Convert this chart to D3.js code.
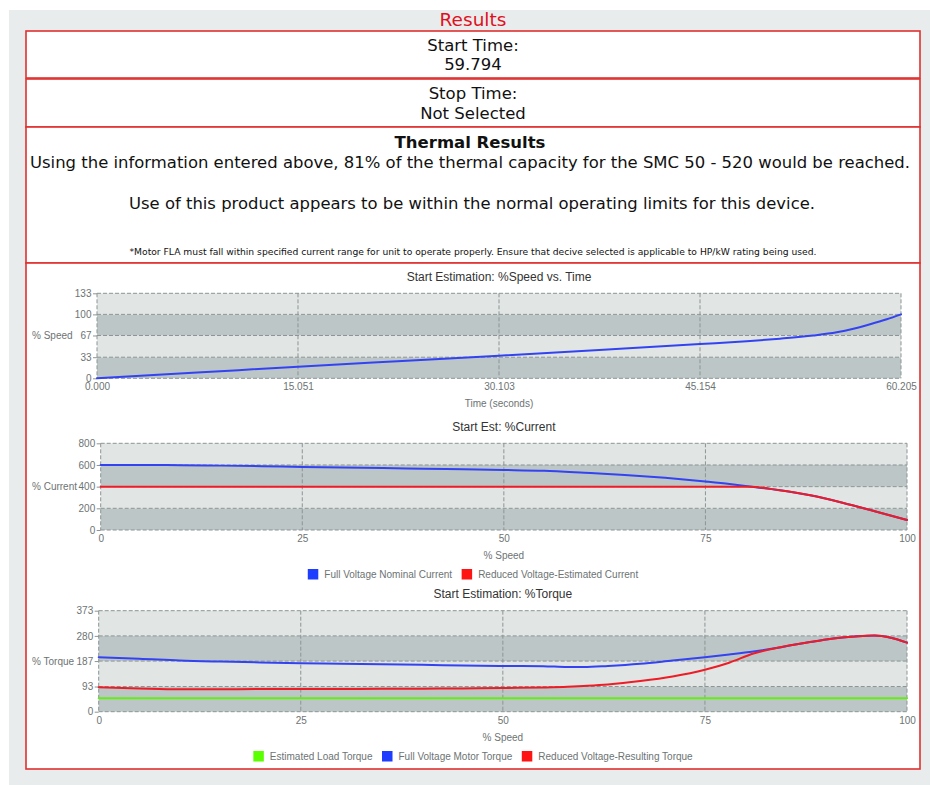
<!DOCTYPE html>
<html>
<head>
<meta charset="utf-8">
<script src="https://cdn.jsdelivr.net/npm/d3@7"></script>
<style>
  html, body { margin: 0; padding: 0; background: #fff; }
  svg { display: block; }
</style>
</head>
<body>
<svg id="page" width="930" height="785"></svg>
<script>
// ---- Start estimation: % speed over time ----
const speedTime = [0, 7.5, 15.051, 22.5, 30.103, 37.6, 45.154, 48.65, 51.14, 53.64, 55.39, 56.64, 57.89, 59.14, 60.205];
const speedPct  = [0, 9, 18.2, 26.8, 35.4, 44.2, 53.5, 58, 62, 67, 72, 77.5, 84.5, 92.3, 100];
const timeTickLabels = ["0.000", "15.051", "30.103", "45.154", "60.205"];
const speedTicks = [0, 33, 67, 100, 133];

// ---- % current vs % speed ----
const currentSpeed   = [0, 5, 10, 15, 20, 25, 30, 35, 40, 45, 50, 55, 60, 65, 70, 75, 78, 80.5, 84, 88, 92, 96, 100];
const fullCurrent    = [600, 600, 598, 594, 589, 581, 576, 571, 566, 560, 554, 546, 528, 508, 481, 447, 424, 401, 369, 320, 252, 173, 92];
const reducedCurrent = [400, 400, 400, 400, 400, 400, 400, 400, 400, 400, 400, 400, 400, 400, 400, 400, 400, 400, 369, 320, 252, 173, 92];
const currentTicks = [0, 200, 400, 600, 800];

// ---- % torque vs % speed ----
const torqueSpeed   = [0, 5, 10, 15, 20, 25, 30, 35, 40, 45, 50, 55, 58, 60, 63, 67, 71, 75, 78, 81, 84, 86, 88, 90, 92, 94, 96, 98, 100];
const fullTorque    = [201, 196, 189, 185, 182, 179, 177, 175, 173, 171, 169, 168, 165, 165, 169, 177, 189, 201, 211, 222, 236, 247, 257, 267, 274, 279, 281, 273, 255];
const reducedTorque = [90, 86, 83, 83, 83.5, 84, 84, 84.5, 85, 86, 87.5, 89.5, 92, 95, 100.5, 113, 130, 155, 181, 215, 236, 247, 257, 267, 274, 279, 281, 273, 255];
const loadSpeed  = [0, 100];
const loadTorque = [50, 50];
const torqueTicks = [0, 93, 187, 280, 373];

const speedAxisTicks = [0, 25, 50, 75, 100];

const BLUE = "#3343f2", RED = "#ee1c25", GREEN = "#62ee12";
const CHART_FONT = "'Liberation Sans', Arial, Helvetica, sans-serif";
const PAGE_FONT = "'DejaVu Sans', Verdana, sans-serif";

const svg = d3.select("#page");

// page frame
svg.append("rect").attr("x", 9).attr("y", 10).attr("width", 921).attr("height", 775).attr("fill", "#e8ecec");

const boxes = [[31, 47], [79, 48], [127, 136], [263, 506]];
boxes.forEach(([y, h]) => {
  svg.append("rect").attr("x", 26).attr("y", y).attr("width", 894).attr("height", h)
    .attr("fill", "#fff").attr("stroke", "#e03030").attr("stroke-width", 1.6);
});

function pageText(txt, x, y, size, opts = {}) {
  const t = svg.append("text").attr("x", x).attr("y", y)
    .attr("text-anchor", "middle").attr("dominant-baseline", "central")
    .attr("font-family", PAGE_FONT).attr("font-size", size)
    .attr("fill", opts.fill || "#111").attr("font-weight", opts.weight || "normal")
    .text(txt);
  if (opts.len) t.attr("textLength", opts.len).attr("lengthAdjust", "spacingAndGlyphs");
  return t;
}

pageText("Results", 473, 19, 18.5, { fill: "#e0101e" });
pageText("Start Time:", 473, 45, 16.5);
pageText("59.794", 473, 64, 16.5);
pageText("Stop Time:", 473, 93, 16.5);
pageText("Not Selected", 473, 113, 16.5);
pageText("Thermal Results", 470, 142, 16.5, { weight: "bold" });
pageText("Using the information entered above, 81% of the thermal capacity for the SMC 50 - 520 would be reached.", 470, 162, 16.5, { len: 880 });
pageText("Use of this product appears to be within the normal operating limits for this device.", 472, 203, 16.5, { len: 686 });
pageText("*Motor FLA must fall within specified current range for unit to operate properly. Ensure that decive selected is applicable to HP/kW rating being used.", 473, 252, 8, { len: 687 });

// one line chart with banded plot area, dashed grid, axes and optional legend
function drawChart(o) {
  const g = svg.append("g");
  const x = d3.scaleLinear().domain(o.xDomain).range([o.left, o.right]);
  const y = d3.scaleLinear().domain(o.yDomain).range([o.bottom, o.top]);

  // alternating horizontal bands
  for (let i = 0; i < o.yTicks.length - 1; i++) {
    g.append("rect")
      .attr("x", o.left).attr("width", o.right - o.left)
      .attr("y", y(o.yTicks[i + 1])).attr("height", y(o.yTicks[i]) - y(o.yTicks[i + 1]))
      .attr("fill", i % 2 === 0 ? "#bcc6c6" : "#e1e6e5");
  }

  // dashed grid
  const grid = g.append("g").attr("stroke", "#8d9494").attr("stroke-width", 1).attr("stroke-dasharray", "4,2").attr("fill", "none");
  o.yTicks.forEach(t => grid.append("line").attr("x1", o.left).attr("x2", o.right).attr("y1", y(t)).attr("y2", y(t)));
  o.xTicks.forEach(t => grid.append("line").attr("y1", o.top).attr("y2", o.bottom).attr("x1", x(t)).attr("x2", x(t)));

  // axes
  const ya = g.append("g").attr("transform", `translate(${o.left},0)`)
    .call(d3.axisLeft(y).tickValues(o.yTicks).tickSize(4).tickPadding(1.5).tickFormat(d3.format("d")));
  const xa = g.append("g").attr("transform", `translate(0,${o.bottom})`)
    .call(d3.axisBottom(x).tickValues(o.xTicks).tickSize(0).tickPadding(5).tickFormat(o.xFormat));
  [ya, xa].forEach(a => {
    a.select(".domain").remove();
    a.selectAll(".tick line").attr("stroke", "#8d9494");
    a.selectAll("text").attr("fill", "#6d7373").attr("font-size", 10).attr("font-family", CHART_FONT);
  });

  // series
  o.series.forEach(s => {
    const pts = s.xs.map((v, i) => [v, s.ys[i]]);
    g.append("path").datum(pts)
      .attr("fill", "none").attr("stroke", s.color).attr("stroke-width", 2)
      .attr("stroke-linejoin", "round").attr("stroke-linecap", "round")
      .attr("d", d3.line().x(d => x(d[0])).y(d => y(d[1])).curve(d3.curveMonotoneX));
  });

  // titles
  g.append("text").attr("x", (o.left + o.right) / 2).attr("y", o.titleY)
    .attr("text-anchor", "middle").attr("dominant-baseline", "central")
    .attr("font-family", CHART_FONT).attr("font-size", 12).attr("fill", "#333").text(o.title);
  g.append("text").attr("x", (o.left + o.right) / 2).attr("y", o.xTitleY)
    .attr("text-anchor", "middle").attr("dominant-baseline", "central")
    .attr("font-family", CHART_FONT).attr("font-size", 10).attr("fill", "#6d7373").text(o.xTitle);
  g.append("text").attr("x", 32).attr("y", (o.top + o.bottom) / 2)
    .attr("text-anchor", "start").attr("dominant-baseline", "central")
    .attr("font-family", CHART_FONT).attr("font-size", 10).attr("fill", "#6d7373").text(o.yTitle);

  // legend, centred under the chart
  if (o.legend) {
    const lg = g.append("g");
    let cx = 0;
    o.legend.forEach(item => {
      const it = lg.append("g").attr("transform", `translate(${cx},0)`);
      it.append("rect").attr("x", 0).attr("y", -5).attr("width", 10.5).attr("height", 10.5).attr("fill", item.color);
      const t = it.append("text").attr("x", 16.5).attr("y", 0.5).attr("dominant-baseline", "central")
        .attr("font-family", CHART_FONT).attr("font-size", 10).attr("fill", "#6d7373").text(item.label);
      cx += 16.5 + t.node().getComputedTextLength() + 9.5;
    });
    const total = cx - 9.5;
    lg.attr("transform", `translate(${473 - total / 2},${o.legendY})`);
  }
}

drawChart({
  left: 97, right: 901, top: 293.3, bottom: 378.3,
  xDomain: [0, +timeTickLabels[timeTickLabels.length - 1]],
  xTicks: timeTickLabels.map(Number), xFormat: d3.format(".3f"),
  yDomain: [0, 133], yTicks: speedTicks,
  title: "Start Estimation: %Speed vs. Time", titleY: 277,
  xTitle: "Time (seconds)", xTitleY: 403,
  yTitle: "% Speed",
  series: [{ xs: speedTime, ys: speedPct, color: BLUE }]
});

drawChart({
  left: 100.7, right: 907, top: 443.3, bottom: 530,
  xDomain: [0, 100], xTicks: speedAxisTicks, xFormat: d3.format("d"),
  yDomain: [0, 800], yTicks: currentTicks,
  title: "Start Est: %Current", titleY: 427,
  xTitle: "% Speed", xTitleY: 555,
  yTitle: "% Current",
  series: [
    { xs: currentSpeed, ys: fullCurrent, color: BLUE },
    { xs: currentSpeed, ys: reducedCurrent, color: RED }
  ],
  legend: [
    { label: "Full Voltage Nominal Current", color: "#1f3dff" },
    { label: "Reduced Voltage-Estimated Current", color: "#ff1414" }
  ],
  legendY: 574
});

drawChart({
  left: 98.7, right: 907, top: 610.7, bottom: 711.7,
  xDomain: [0, 100], xTicks: speedAxisTicks, xFormat: d3.format("d"),
  yDomain: [0, 373], yTicks: torqueTicks,
  title: "Start Estimation: %Torque", titleY: 594,
  xTitle: "% Speed", xTitleY: 737,
  yTitle: "% Torque",
  series: [
    { xs: loadSpeed, ys: loadTorque, color: GREEN },
    { xs: torqueSpeed, ys: fullTorque, color: BLUE },
    { xs: torqueSpeed, ys: reducedTorque, color: RED }
  ],
  legend: [
    { label: "Estimated Load Torque", color: "#5cff00" },
    { label: "Full Voltage Motor Torque", color: "#1f3dff" },
    { label: "Reduced Voltage-Resulting Torque", color: "#ff1414" }
  ],
  legendY: 756
});
</script>
</body>
</html>
